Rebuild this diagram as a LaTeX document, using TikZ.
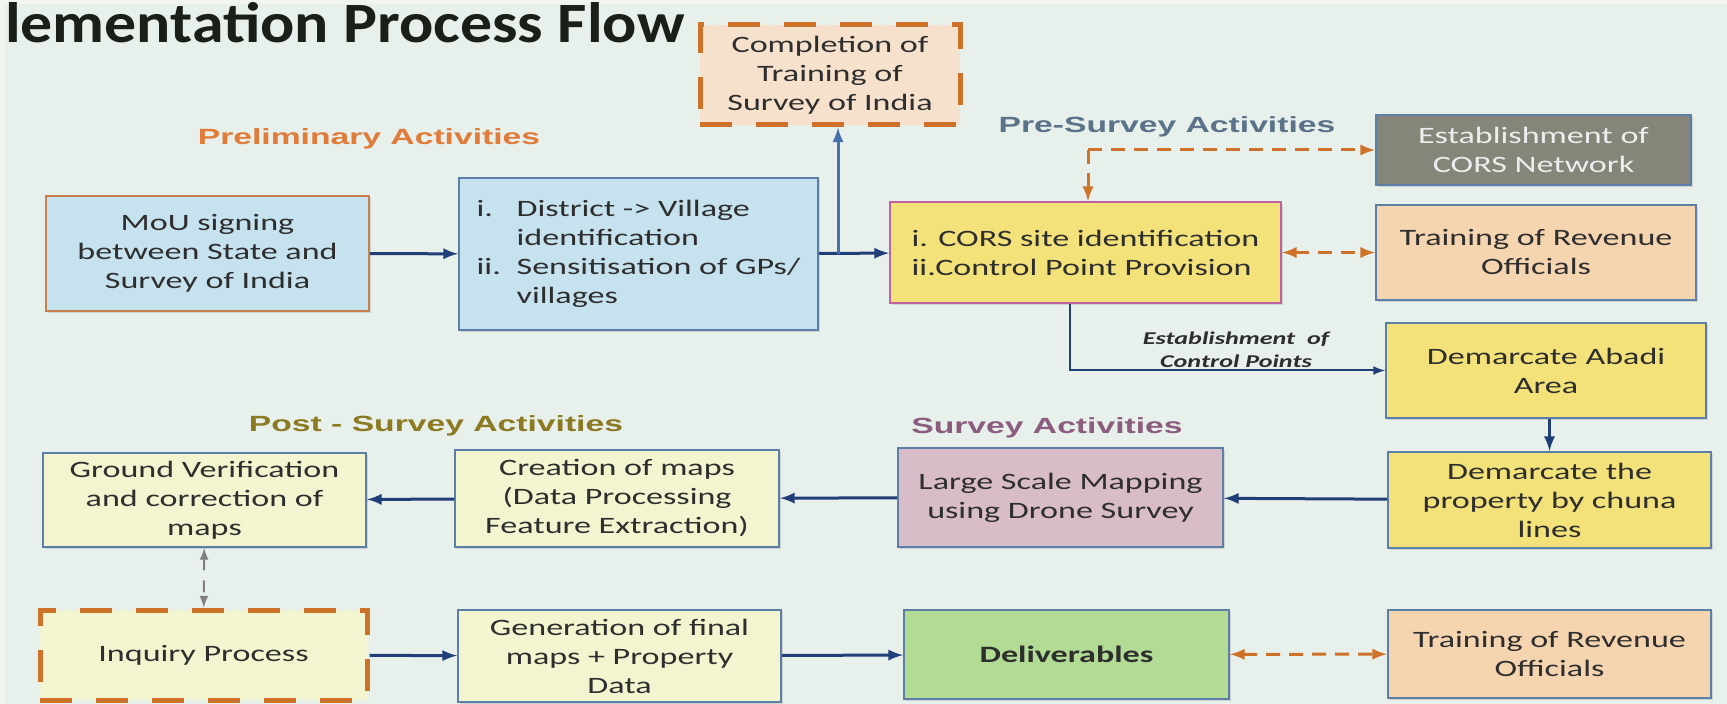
\documentclass[tikz,border=0pt]{standalone}
\usepackage{fontspec}
\setmainfont{Carlito}
\newfontfamily\boxfont[FakeStretch=1.45]{Carlito}
\newfontfamily\headfont[FakeStretch=1.53]{Liberation Sans}
\newfontfamily\titlefont[FakeStretch=1.12]{Carlito}
\usetikzlibrary{arrows,calc,shadows}
\definecolor{bgcol}{HTML}{E8F0EB}
\definecolor{bgedge}{HTML}{F2F6EF}
\definecolor{txt}{HTML}{2E2E2E}
\definecolor{boxline}{HTML}{5B7FA6}
\definecolor{navy}{HTML}{203F78}
\definecolor{lblue}{HTML}{4670AC}
\definecolor{orng}{HTML}{CF7229}
\definecolor{skyfill}{HTML}{C6E2EE}
\definecolor{peach}{HTML}{F6E2CC}
\definecolor{apricot}{HTML}{F5D4B0}
\definecolor{lemon}{HTML}{F3E27A}
\definecolor{stone}{HTML}{85857A}
\definecolor{cream}{HTML}{F3F5D0}
\definecolor{mauve}{HTML}{D8BDC8}
\definecolor{mint}{HTML}{B2DB94}
\definecolor{prelim}{HTML}{E07B39}
\definecolor{presurv}{HTML}{5B7389}
\definecolor{surv}{HTML}{8B5C7E}
\definecolor{postsurv}{HTML}{8C7A22}
\tikzset{
  sz/.style 2 args={minimum width=#1*0.5pt,minimum height=#2*0.5pt},
  box/.style={draw=boxline,line width=1pt,inner sep=0pt,align=center,text=txt,
    font=\boxfont\fontsize{11.75}{14.5}\selectfont,
    drop shadow={opacity=.25,shadow xshift=1pt,shadow yshift=-1pt}},
  dbox/.style={draw=orng,line width=2.5pt,dash pattern=on 16pt off 12pt,inner sep=0pt,
    align=center,text=txt,font=\boxfont\fontsize{11.75}{14.5}\selectfont},
  head/.style={font=\headfont\bfseries\fontsize{11}{13}\selectfont},
  lbl/.style={align=center,text=txt,font=\boxfont\bfseries\itshape\fontsize{9}{11.5}\selectfont},
  arr/.style={-latex,draw=navy,line width=1.5pt},
  odash/.style={draw=orng,line width=1.5pt,dash pattern=on 7pt off 4.5pt,>=latex},
  gdash/.style={<->,>=latex,draw=gray,line width=1pt,dash pattern=on 6pt off 5pt}
}
\begin{document}
\begin{tikzpicture}[x=0.5pt,y=-0.5pt]
\fill[bgcol] (0,0) rectangle (1727,704);
\fill[bgedge] (0,0) rectangle (1727,4) (0,0) rectangle (5,704);
\useasboundingbox (0,0) rectangle (1727,704);
\node[anchor=base west,text={rgb,255:red,26;green,31;blue,26},font=\titlefont\bfseries\fontsize{28.5}{32}\selectfont] (ttl) at (-2,43) {lementation Process Flow};
\node[head,text=prelim] (h1) at (369,139) {Preliminary Activities};
\node[head,text=presurv] (h2) at (1167,127) {Pre-Survey Activities};
\node[head,text=surv] (h3) at (1047,428) {Survey Activities};
\node[head,text=postsurv] (h4) at (436,426) {Post - Survey Activities};
\node[dbox,fill=peach,sz={260}{100}] (done) at (830,75) {Completion of\\Training of\\Survey of India};
\node[box,draw={rgb,255:red,200;green,128;blue,74},fill=skyfill,sz={323}{115}] (mou) at (207.5,253.5) {MoU signing\\between State and\\Survey of India};
\node[box,fill=skyfill,sz={359}{152},align=left] (dist) at (638.5,254) {\makebox[20pt][l]{i.}District -> Village\\\hspace*{20pt}identification\\\makebox[20pt][l]{ii.}Sensitisation of GPs/\\\hspace*{20pt}villages};
\node[box,draw={rgb,255:red,192;green,96;blue,160},fill=lemon,sz={391}{101},align=left] (cors) at (1085.5,252.5) {i. CORS site identification\\ii.Control Point Provision};
\node[box,fill=stone,text={rgb,255:red,237;green,237;blue,237},sz={315}{70}] (net) at (1533.5,150) {Establishment of\\CORS Network};
\node[box,fill=apricot,sz={320}{95}] (trn) at (1536,252.5) {Training of Revenue\\Officials};
\node[box,fill=lemon,sz={320}{95}] (abadi) at (1546,370.5) {Demarcate Abadi\\Area};
\node[box,fill=lemon,sz={323}{96}] (prop) at (1549.5,500) {Demarcate the\\property by chuna\\lines};
\node[box,fill=mauve,sz={325}{99}] (drone) at (1060.5,497.5) {Large Scale Mapping\\using Drone Survey};
\node[box,fill=cream,sz={324}{97}] (maps) at (617,498.5) {Creation of maps\\(Data Processing\\Feature Extraction)};
\node[box,fill=cream,sz={323}{94}] (ground) at (204.5,500) {Ground Verification\\and correction of\\maps};
\node[dbox,fill=cream,sz={327}{90}] (inq) at (203.5,655) {Inquiry Process};
\node[box,fill=cream,sz={323}{92}] (gen) at (619.5,656) {Generation of final\\maps + Property\\Data};
\node[box,fill=mint,sz={325}{89},font=\boxfont\bfseries\fontsize{11.75}{14.5}\selectfont] (deliv) at (1066.5,654.5) {Deliverables};
\node[box,fill=apricot,sz={323}{88}] (trn2) at (1549.5,654) {Training of Revenue\\Officials};
\node[lbl] (cp) at (1236,350) {Establishment\ \ of\\Control Points};
\coordinate (br) at (838,254);
\coordinate (c1) at (1088,150);
\draw[arr] (mou) -- (dist);
\draw[arr] (dist) -- (cors);
\draw[arr,draw=lblue] (br) -- (br |- done.south);
\draw[odash,->] (c1) -- (net);
\draw[odash,->] (c1) -- (c1 |- cors.north);
\draw[odash,<->] (cors) -- (trn);
\draw[arr,line width=1pt] ($(cors.south)+(-15.5,0)$) |- (abadi.west);
\draw[arr] (abadi.south -| prop) -- (prop.north);
\draw[arr] (prop) -- (drone);
\draw[arr] (drone) -- (maps);
\draw[arr] (maps) -- (ground);
\draw[gdash] (ground) -- (inq);
\draw[arr] (inq) -- (gen);
\draw[arr] (gen) -- (deliv);
\draw[odash,<->] (deliv) -- (trn2);
\end{tikzpicture}
\end{document}
